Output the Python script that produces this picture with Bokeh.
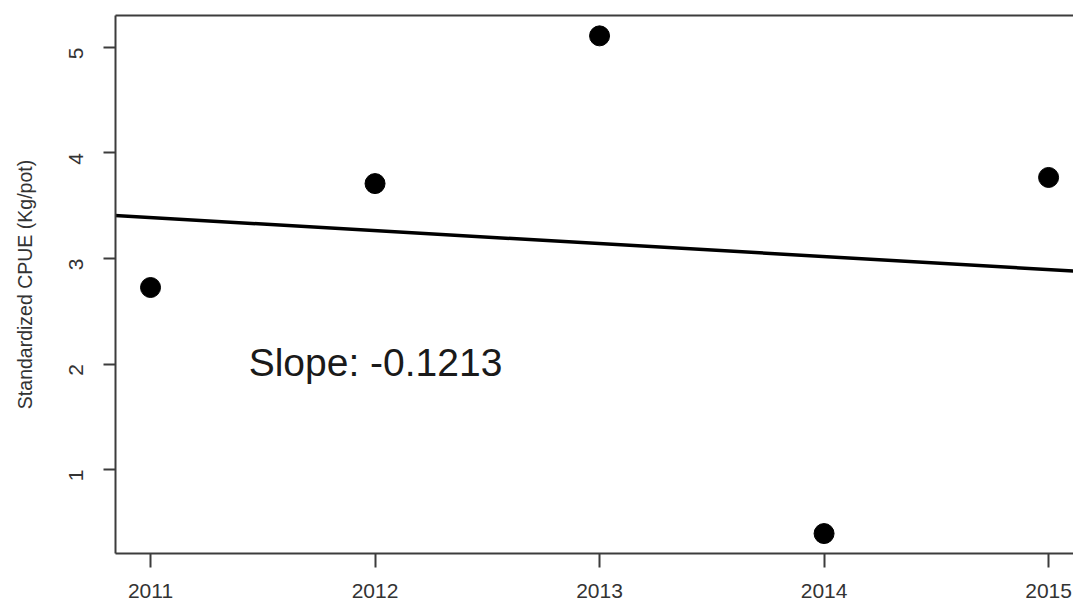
import math
from bokeh.plotting import figure
from bokeh.models import Range1d, FixedTicker, LinearAxis, Label
from bokeh.embed import file_html
from bokeh.resources import INLINE

years = [2011, 2012, 2013, 2014, 2015]
cpue = [2.725, 3.71, 5.11, 0.393, 3.768]
y_ticks = [1, 2, 3, 4, 5]
slope_text = "Slope: -0.1213"
y_label = "Standardized CPUE (Kg/pot)"

# least-squares fit line
n = len(years)
mx = sum(years) / n
my = sum(cpue) / n
b = sum((x - mx) * (y - my) for x, y in zip(years, cpue)) / sum((x - mx) ** 2 for x in years)
a = my - b * mx
x0, x1 = 2010.7, 2015.3
fit_x = [x0, x1]
fit_y = [a + b * x0, a + b * x1]

p = figure(width=1073, height=607, output_backend="svg", toolbar_location=None,
           x_range=Range1d(2010.844, 2015.111), y_range=Range1d(0.204, 5.303),
           min_border_left=115, min_border_right=0, min_border_top=15, min_border_bottom=54)
p.outline_line_color = None
p.xgrid.visible = False
p.ygrid.visible = False
p.background_fill_color = "white"
p.border_fill_color = "white"

axcol = "#3c3c3c"
txtcol = "#333333"
font = "Liberation Sans"

p.xaxis.ticker = FixedTicker(ticks=years)
p.xaxis.axis_line_color = axcol
p.xaxis.axis_line_width = 2
p.xaxis.major_tick_line_color = axcol
p.xaxis.major_tick_line_width = 2
p.xaxis.major_tick_out = 14
p.xaxis.major_tick_in = 0
p.xaxis.minor_tick_line_color = None
p.xaxis.major_label_text_font = font
p.xaxis.major_label_text_font_size = "21px"
p.xaxis.major_label_text_color = txtcol
p.xaxis.major_label_standoff = 16

p.yaxis.ticker = FixedTicker(ticks=y_ticks)
p.yaxis.axis_line_color = axcol
p.yaxis.axis_line_width = 2
p.yaxis.major_tick_line_color = axcol
p.yaxis.major_tick_line_width = 2
p.yaxis.major_tick_out = 12
p.yaxis.major_tick_in = 0
p.yaxis.minor_tick_line_color = None
p.yaxis.major_label_orientation = math.pi / 2
p.yaxis.major_label_text_font = font
p.yaxis.major_label_text_font_size = "21px"
p.yaxis.major_label_text_color = txtcol
p.yaxis.major_label_standoff = 27
p.yaxis.axis_label = y_label
p.yaxis.axis_label_text_font = font
p.yaxis.axis_label_text_font_size = "19.5px"
p.yaxis.axis_label_text_font_style = "normal"
p.yaxis.axis_label_text_color = txtcol
p.yaxis.axis_label_standoff = 24

top = LinearAxis(ticker=FixedTicker(ticks=[]), major_tick_out=0, major_tick_in=0,
                 major_label_text_font_size="0px", axis_line_color=axcol,
                 axis_line_width=2, minor_tick_line_color=None, major_label_standoff=0)
p.add_layout(top, "above")

p.line(fit_x, fit_y, line_color="black", line_width=3.5)
p.scatter(years, cpue, size=20, marker="circle", fill_color="black", line_color="black")

p.add_layout(Label(x=2011.437, y=2.014, text=slope_text, text_font=font,
                   text_font_size="39px", text_color="#1a1a1a",
                   text_baseline="middle", text_align="left"))

open("out.html", "w").write(file_html(p, INLINE))
